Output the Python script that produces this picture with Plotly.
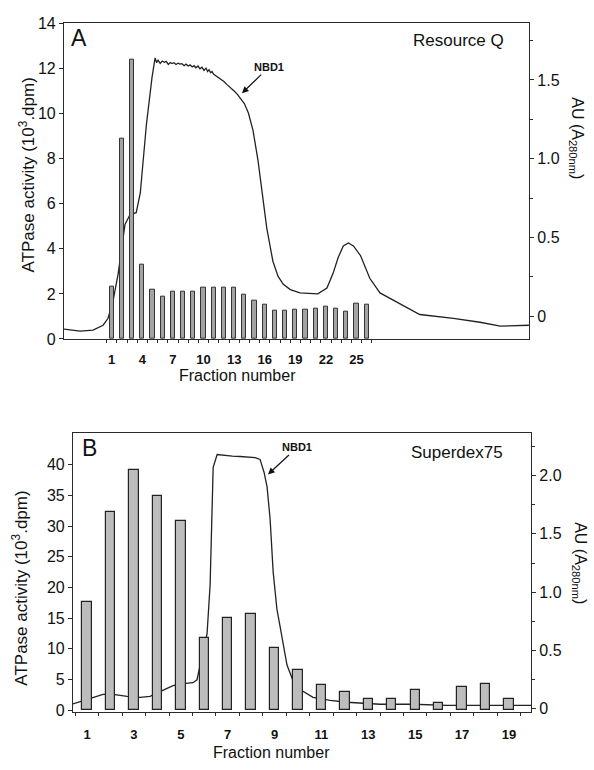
import plotly.graph_objects as go

W, H = 594, 770

# ---------------- Panel A : Resource Q ----------------
fractions_A = list(range(1, 27))
atpase_A = [2.3, 8.9, 12.4, 3.3, 2.2, 1.87, 2.1, 2.1, 2.1, 2.27, 2.27, 2.27, 2.28,
            1.97, 1.72, 1.53, 1.27, 1.27, 1.29, 1.29, 1.33, 1.43, 1.36, 1.23, 1.58, 1.51]
trace_frac_A = [-3.68, -2.1, -0.83, 0.15, 0.64, 1.13, 1.62, 2.3, 2.8, 3.4, 3.8, 4.4, 4.95,
                5.25, 5.4, 5.54, 5.75, 5.95, 6.15, 6.34, 6.55, 6.74, 6.9, 7.11, 7.3, 7.5,
                7.7, 7.89, 8.1, 8.28, 8.5, 8.68, 8.9, 9.07, 9.25, 9.46, 9.65, 9.85, 10.05,
                10.25, 10.4, 10.54, 10.7, 10.83, 11.0, 11.3, 11.6, 12.0, 12.3, 12.6, 13.0,
                13.3, 13.6, 14.0, 14.4, 14.85, 15.34, 15.83, 16.2, 16.8, 17.3, 17.8, 18.5,
                19.46, 21.2, 22.1, 22.7, 23.2, 23.7, 24.2, 24.7, 25.4, 26.3, 27.3, 29.0,
                31.2, 34.5, 37.1, 39.1, 41.9]
trace_au_A = [-0.081, -0.093, -0.087, -0.056, -0.012, 0.099, 0.267, 0.584, 0.646, 0.658,
              0.783, 1.217, 1.516, 1.64, 1.61, 1.625, 1.605, 1.62, 1.612, 1.618, 1.598,
              1.61, 1.604, 1.609, 1.598, 1.606, 1.6, 1.603, 1.59, 1.6, 1.588, 1.595,
              1.582, 1.59, 1.577, 1.588, 1.57, 1.58, 1.56, 1.575, 1.553, 1.565, 1.545,
              1.553, 1.535, 1.522, 1.505, 1.49, 1.47, 1.455, 1.43, 1.41, 1.385, 1.35, 1.29,
              1.18, 0.99, 0.75, 0.56, 0.35, 0.255, 0.205, 0.17, 0.149, 0.143, 0.18, 0.273,
              0.373, 0.447, 0.466, 0.447, 0.385, 0.242, 0.149, 0.087, 0.012, -0.012,
              -0.037, -0.062, -0.056]
xticks_A = [1, 4, 7, 10, 13, 16, 19, 22, 25]
yticks_A_left = [0, 2, 4, 6, 8, 10, 12, 14]
yticks_A_right = [0, 0.5, 1.0, 1.5]
yticklabels_A_right = ["0", "0.5", "1.0", "1.5"]

# ---------------- Panel B : Superdex75 ----------------
fractions_B = list(range(1, 20))
atpase_B = [17.6, 32.3, 39.1, 35.0, 30.9, 11.8, 15.1, 15.6, 10.2, 6.6,
            4.1, 2.9, 1.8, 1.8, 3.3, 1.2, 3.8, 4.3, 1.8]
trace_frac_B = [0.40, 1.04, 1.68, 2.11, 2.71, 3.26, 3.69, 4.11, 4.67, 5.1, 5.52, 5.69,
                5.95, 6.12, 6.25, 6.38, 6.55, 6.89, 7.2, 7.53, 7.85, 8.17, 8.38, 8.55,
                8.68, 8.81, 8.94, 9.1, 9.23, 9.36, 9.53, 9.79, 10.09, 10.64, 11.37, 12.09,
                13.5, 14.9, 16.36, 17.77, 19.94]
trace_au_B = [0.04, 0.08, 0.122, 0.122, 0.105, 0.097, 0.105, 0.147, 0.197, 0.214, 0.223,
              0.248, 0.475, 0.643, 1.063, 2.071, 2.181, 2.172, 2.168, 2.164, 2.16, 2.155,
              2.139, 2.029, 1.903, 1.626, 1.172, 0.853, 0.71, 0.559, 0.374, 0.239, 0.164,
              0.097, 0.071, 0.055, 0.038, 0.038, 0.029, 0.029, 0.029]
xticks_B = [1, 3, 5, 7, 9, 11, 13, 15, 17, 19]
yticks_B_left = [0, 5, 10, 15, 20, 25, 30, 35, 40]
yticks_B_right = [0, 0.5, 1.0, 1.5, 2.0]
yticklabels_B_right = ["0", "0.5", "1.0", "1.5", "2.0"]

FONT = "Liberation Sans, Arial, sans-serif"
AX = "#2a2a2a"

fig = go.Figure()

# lines first (base axes), bars on overlaying axes so they draw on top
fig.add_trace(go.Scatter(x=trace_frac_A, y=trace_au_A, mode="lines",
                         line=dict(color="#222", width=1.3), xaxis="x", yaxis="y",
                         showlegend=False, hoverinfo="skip"))
fig.add_trace(go.Bar(x=fractions_A, y=atpase_A, width=0.42, xaxis="x", yaxis="y2",
                     marker=dict(color="#a3a3a3", line=dict(color="#333", width=1)),
                     showlegend=False))
fig.add_trace(go.Scatter(x=trace_frac_B, y=trace_au_B, mode="lines",
                         line=dict(color="#222", width=1.3), xaxis="x2", yaxis="y3",
                         showlegend=False, hoverinfo="skip"))
fig.add_trace(go.Bar(x=fractions_B, y=atpase_B, width=0.4, xaxis="x2", yaxis="y4",
                     marker=dict(color="#bdbdbd", line=dict(color="#222", width=1.2)),
                     showlegend=False))

def px(x):
    return x / W

def py(y):
    return 1 - y / H

tickfont_y = dict(family=FONT, size=16, color="#111")
tickfont_x = dict(family=FONT, size=13, color="#111", weight="bold")

common_line = dict(showline=True, linecolor=AX, linewidth=1.2, showgrid=False, zeroline=False)

fig.update_layout(
    width=W, height=H, margin=dict(l=0, r=0, t=0, b=0),
    paper_bgcolor="white", plot_bgcolor="white",
    bargap=0, barmode="overlay",
    xaxis=dict(domain=[px(64), px(529)], range=[-3.68, 41.91], anchor="y2",
               tickmode="array", tickvals=xticks_A, ticks="outside", ticklen=0,
               tickfont=tickfont_x, ticklabelstandoff=8, mirror=True,
               minor=dict(tickmode="array", tickvals=[f - 0.5 for f in fractions_A] + [fractions_A[-1] + 0.5],
                          ticks="outside", ticklen=3, tickcolor=AX),
               **common_line),
    yaxis=dict(domain=[py(339), py(16)], range=[-0.143, 1.863], side="right", anchor="x",
               tickmode="array", tickvals=yticks_A_right, ticktext=yticklabels_A_right,
               ticks="outside", ticklen=4, tickcolor=AX, tickfont=tickfont_y,
               minor=dict(tickmode="linear", tick0=0, dtick=0.25, ticks="outside",
                          ticklen=3, tickcolor=AX),
               **common_line),
    yaxis2=dict(overlaying="y", side="left", anchor="x", range=[0, 14.04],
                tickmode="array", tickvals=yticks_A_left, ticks="outside", ticklen=4,
                tickcolor=AX, tickfont=tickfont_y, **common_line),
    xaxis2=dict(domain=[px(73), px(531)], range=[0.40, 19.94], anchor="y4",
                tickmode="array", tickvals=xticks_B, ticks="outside", ticklen=0,
                tickfont=tickfont_x, ticklabelstandoff=10, mirror=True,
                minor=dict(tickmode="array", tickvals=[f - 0.5 for f in fractions_B] + [fractions_B[-1] + 0.5],
                           ticks="outside", ticklen=3, tickcolor=AX),
                **common_line),
    yaxis3=dict(domain=[py(720), py(435)], range=[-0.029, 2.366], side="right", anchor="x2",
                tickmode="array", tickvals=yticks_B_right, ticktext=yticklabels_B_right,
                ticks="outside", ticklen=4, tickcolor=AX, tickfont=tickfont_y,
                minor=dict(tickmode="linear", tick0=0, dtick=0.25, ticks="outside",
                           ticklen=3, tickcolor=AX),
                **common_line),
    yaxis4=dict(overlaying="y3", side="left", anchor="x2", range=[-0.32, 45.2],
                tickmode="array", tickvals=yticks_B_left, ticks="outside", ticklen=4,
                tickcolor=AX, tickfont=tickfont_y, **common_line),
)

def txt(x, y, text, size, angle=0, bold=False, xanchor="center"):
    fig.add_annotation(x=px(x), y=py(y), xref="paper", yref="paper", text=text,
                       showarrow=False, textangle=angle, xanchor=xanchor, yanchor="middle",
                       font=dict(family=FONT, size=size, color="#111",
                                 weight="bold" if bold else "normal"))

# panel letters and titles
txt(79, 32, "A", 23)
txt(458, 34, "Resource Q", 17)
txt(89, 450, "B", 23)
txt(457, 455, "Superdex75", 17)

# axis titles
txt(27, 172, "ATPase activity (10<sup>3</sup>.dpm)", 17, angle=-90)
txt(20, 594, "ATPase activity (10<sup>3</sup>.dpm)", 17, angle=-90)
txt(577, 134, "AU (A<sub>280nm</sub>)", 16, angle=90)
txt(580, 568, "AU (A<sub>280nm</sub>)", 16, angle=90)
txt(237, 376, "Fraction number", 16)
txt(271, 761, "Fraction number", 16)

# NBD1 arrows
fig.add_annotation(x=13.77, y=1.416, xref="x", yref="y", text="<b>NBD1</b>",
                   showarrow=True, ax=27, ay=-26, arrowhead=2, arrowsize=1.1,
                   arrowwidth=1.2, arrowcolor="#111",
                   font=dict(family=FONT, size=11, color="#111"))
fig.add_annotation(x=8.72, y=2.01, xref="x2", yref="y3", text="<b>NBD1</b>",
                   showarrow=True, ax=29, ay=-27, arrowhead=2, arrowsize=1.1,
                   arrowwidth=1.2, arrowcolor="#111",
                   font=dict(family=FONT, size=11, color="#111"))

fig.write_html("out.html")
